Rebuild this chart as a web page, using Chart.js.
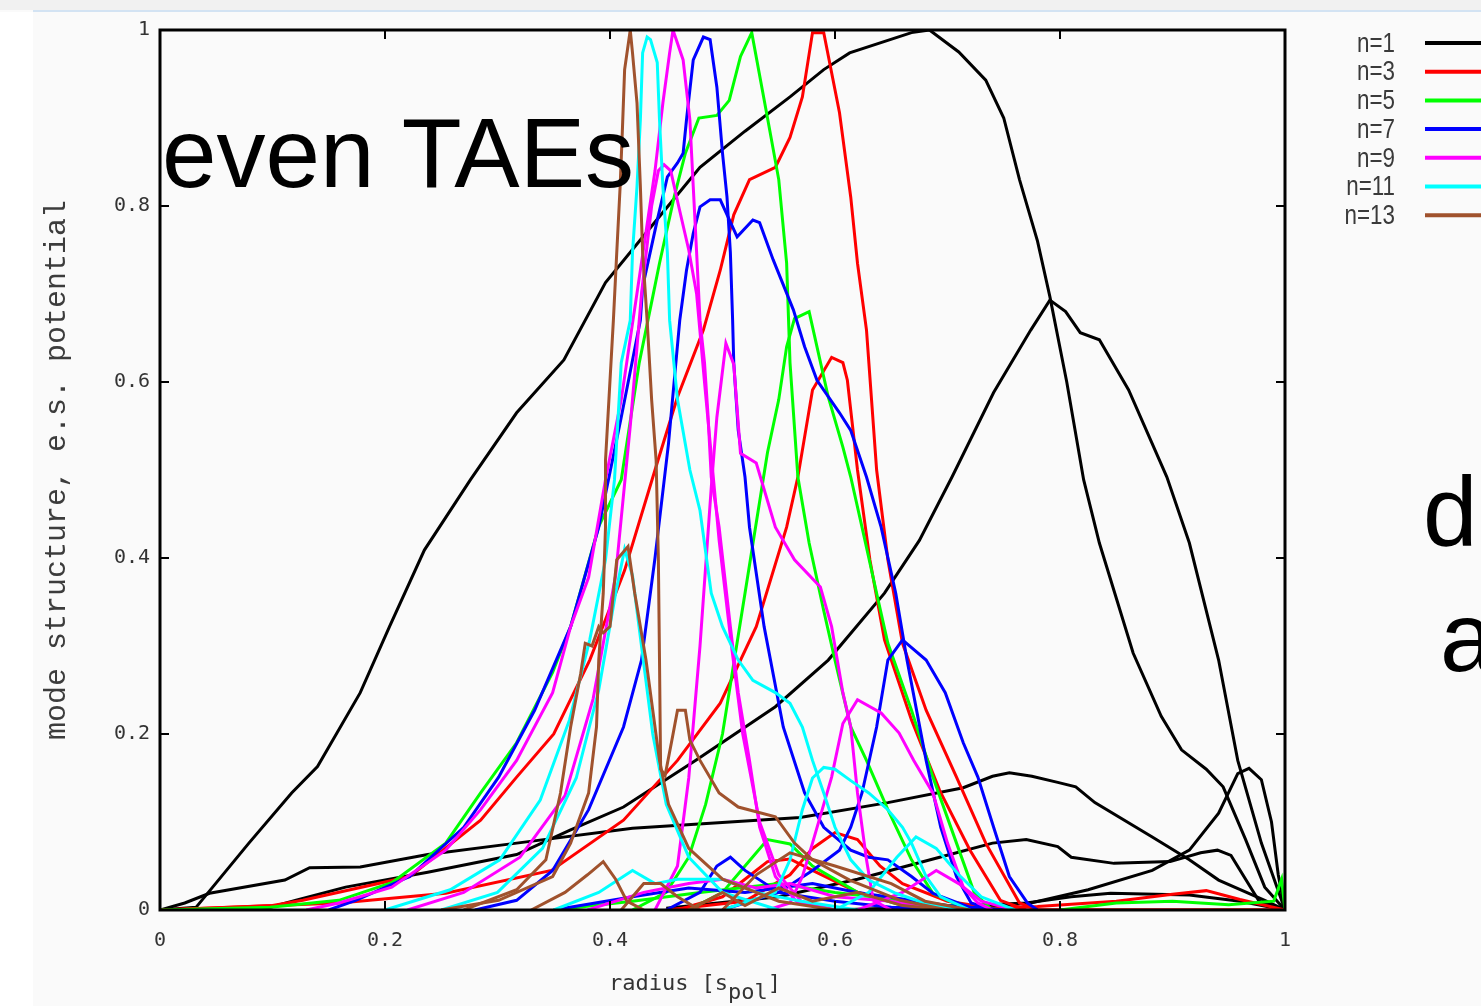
<!DOCTYPE html>
<html>
<head>
<meta charset="utf-8">
<script src="https://cdn.jsdelivr.net/npm/chart.js@4.4.0/dist/chart.umd.min.js"></script>
<style>
  html, body { margin: 0; padding: 0; background: #fafafa; }
  #wrap { position: relative; width: 1481px; height: 1006px; overflow: hidden; }
  #topbar { position: absolute; left: 0; top: 0; width: 1481px; height: 10px; background: #f1f1f1; }
  #topline { position: absolute; left: 33px; top: 10px; width: 1448px; height: 2px; background: #d3e3f3; }
  #leftstrip { position: absolute; left: 0; top: 12px; width: 33px; height: 994px; background: #ffffff; }
  canvas { position: absolute; left: 0; top: 0; }
</style>
</head>
<body>
<div id="wrap">
  <div id="topbar"></div><div id="topline"></div><div id="leftstrip"></div>
  <canvas id="myChart" width="1481" height="1006"></canvas>
</div>
<script>
// tick labels
const xTickLabels = ['0', '0.2', '0.4', '0.6', '0.8', '1'];
const yTickLabels = ['0', '0.2', '0.4', '0.6', '0.8', '1'];
const legendLabels = ['n=1', 'n=3', 'n=5', 'n=7', 'n=9', 'n=11', 'n=13'];

// n=1 (black)
const n1_a = [[0,0],[0.032,0.003],[0.079,0.076],[0.117,0.133],[0.14,0.163],[0.178,0.247],[0.204,0.322],[0.235,0.409],[0.276,0.489],[0.317,0.565],[0.359,0.625],[0.396,0.713],[0.444,0.788],[0.48,0.844],[0.52,0.885],[0.56,0.924],[0.59,0.955],[0.613,0.974],[0.668,0.997],[0.684,1.0],[0.71,0.975],[0.734,0.943],[0.75,0.9],[0.764,0.83],[0.78,0.76],[0.791,0.697],[0.806,0.6],[0.821,0.489],[0.835,0.417],[0.865,0.292],[0.89,0.22],[0.908,0.182],[0.93,0.16],[0.945,0.14],[0.965,0.08],[0.982,0.026],[1,0]];
const n1_b = [[0.08,0],[0.095,0.002],[0.121,0.011],[0.165,0.026],[0.238,0.043],[0.317,0.063],[0.365,0.091],[0.412,0.117],[0.476,0.17],[0.547,0.231],[0.594,0.284],[0.644,0.36],[0.675,0.42],[0.704,0.492],[0.741,0.588],[0.774,0.659],[0.791,0.693],[0.805,0.68],[0.818,0.656],[0.835,0.648],[0.861,0.591],[0.895,0.492],[0.915,0.417],[0.941,0.284],[0.958,0.17],[0.979,0.076],[1,0]];
const n1_c = [[0,0],[0.022,0.008],[0.044,0.019],[0.111,0.034],[0.133,0.048],[0.178,0.049],[0.238,0.063],[0.317,0.076],[0.42,0.093],[0.569,0.105],[0.647,0.122],[0.714,0.139],[0.74,0.152],[0.755,0.156],[0.775,0.152],[0.798,0.145],[0.814,0.14],[0.831,0.122],[0.882,0.083],[0.915,0.057],[0.941,0.034],[0.982,0.011],[1,0]];
const n1_d = [[0.7,0],[0.774,0.008],[0.825,0.023],[0.882,0.045],[0.915,0.068],[0.941,0.11],[0.958,0.155],[0.968,0.161],[0.979,0.148],[0.988,0.1],[0.994,0.04],[1,0]];
const n1_e = [[0.45,0.002],[0.55,0.015],[0.62,0.035],[0.693,0.06],[0.74,0.076],[0.77,0.08],[0.798,0.072],[0.81,0.06],[0.848,0.053],[0.898,0.055],[0.925,0.065],[0.94,0.068],[0.952,0.062],[0.977,0.01],[1,0]];
const n1_f = [[0.6,0],[0.72,0.005],[0.77,0.008],[0.81,0.015],[0.845,0.019],[0.915,0.017],[0.96,0.01],[1,0]];

// n=3 (red)
const n3_a = [[0,0],[0.1,0.005],[0.127,0.011],[0.222,0.038],[0.285,0.102],[0.317,0.151],[0.35,0.2],[0.382,0.284],[0.413,0.386],[0.44,0.5],[0.46,0.583],[0.483,0.659],[0.498,0.727],[0.51,0.79],[0.524,0.83],[0.547,0.844],[0.56,0.878],[0.571,0.924],[0.58,0.997],[0.59,0.997],[0.604,0.906],[0.614,0.81],[0.62,0.735],[0.628,0.659],[0.637,0.5],[0.647,0.398],[0.66,0.303],[0.681,0.227],[0.708,0.151],[0.734,0.076],[0.764,0.008],[0.78,0],[1,0]];
const n3_b = [[0,0],[0.16,0.008],[0.254,0.019],[0.348,0.045],[0.412,0.102],[0.46,0.17],[0.498,0.235],[0.53,0.322],[0.557,0.435],[0.567,0.492],[0.58,0.591],[0.597,0.628],[0.607,0.622],[0.611,0.602],[0.62,0.5],[0.631,0.398],[0.644,0.307],[0.668,0.216],[0.693,0.136],[0.72,0.068],[0.747,0.011],[0.77,0],[1,0]];
const n3_c = [[0.45,0],[0.52,0.01],[0.56,0.04],[0.58,0.07],[0.6,0.088],[0.62,0.08],[0.64,0.05],[0.66,0.03],[0.7,0.01],[0.75,0]];
const n3_d = [[0.46,0],[0.5,0.015],[0.52,0.035],[0.54,0.055],[0.56,0.058],[0.58,0.045],[0.62,0.02],[0.68,0.005],[0.72,0]];
const n3_e = [[0.7,0],[0.78,0.004],[0.85,0.01],[0.9,0.018],[0.93,0.022],[0.96,0.012],[1,0]];

// n=5 (green)
const n5_a = [[0,0],[0.098,0.003],[0.159,0.011],[0.206,0.031],[0.254,0.076],[0.285,0.133],[0.317,0.19],[0.349,0.27],[0.365,0.322],[0.39,0.436],[0.41,0.489],[0.426,0.622],[0.438,0.697],[0.444,0.735],[0.457,0.81],[0.467,0.86],[0.479,0.9],[0.495,0.903],[0.506,0.92],[0.516,0.97],[0.526,0.997],[0.54,0.9],[0.55,0.83],[0.557,0.735],[0.56,0.622],[0.567,0.492],[0.577,0.417],[0.59,0.34],[0.6,0.284],[0.614,0.208],[0.628,0.17],[0.647,0.114],[0.668,0.057],[0.687,0.019],[0.714,0.003],[0.73,0]];
const n5_b = [[0.42,0],[0.45,0.02],[0.47,0.06],[0.485,0.12],[0.5,0.2],[0.51,0.28],[0.52,0.36],[0.53,0.44],[0.54,0.52],[0.55,0.58],[0.557,0.64],[0.564,0.672],[0.577,0.68],[0.584,0.64],[0.594,0.583],[0.607,0.526],[0.614,0.492],[0.624,0.435],[0.637,0.36],[0.647,0.303],[0.668,0.227],[0.687,0.151],[0.708,0.076],[0.724,0.019],[0.74,0]];
const n5_c = [[0.47,0],[0.5,0.02],[0.52,0.05],[0.54,0.08],[0.56,0.075],[0.58,0.05],[0.62,0.02],[0.66,0.005],[0.7,0]];
const n5_d = [[0.35,0],[0.42,0.01],[0.48,0.02],[0.55,0.03],[0.6,0.02],[0.7,0.005],[0.75,0]];
const n5_e = [[0.8,0],[0.85,0.008],[0.9,0.01],[0.95,0.006],[0.99,0.01],[0.997,0.035],[1,0]];

// n=7 (blue)
const n7_a = [[0.15,0],[0.174,0.011],[0.222,0.038],[0.27,0.094],[0.301,0.151],[0.333,0.227],[0.365,0.322],[0.39,0.435],[0.41,0.56],[0.427,0.67],[0.429,0.708],[0.442,0.784],[0.451,0.833],[0.46,0.849],[0.465,0.86],[0.468,0.898],[0.474,0.966],[0.483,0.992],[0.489,0.989],[0.495,0.935],[0.5,0.86],[0.504,0.81],[0.507,0.747],[0.509,0.67],[0.51,0.622],[0.514,0.545],[0.52,0.492],[0.524,0.435],[0.537,0.322],[0.554,0.208],[0.573,0.133],[0.59,0.094],[0.614,0.068],[0.63,0.06],[0.647,0.057],[0.668,0.038],[0.687,0.019],[0.72,0.003],[0.75,0]];
const n7_b = [[0.28,0],[0.317,0.011],[0.349,0.045],[0.381,0.114],[0.412,0.208],[0.428,0.284],[0.44,0.4],[0.452,0.53],[0.462,0.67],[0.468,0.727],[0.474,0.769],[0.48,0.799],[0.489,0.807],[0.498,0.807],[0.513,0.765],[0.527,0.784],[0.533,0.781],[0.545,0.739],[0.563,0.682],[0.573,0.64],[0.584,0.602],[0.604,0.565],[0.614,0.545],[0.628,0.492],[0.641,0.435],[0.654,0.36],[0.664,0.284],[0.681,0.17],[0.694,0.094],[0.708,0.038],[0.721,0.008],[0.74,0]];
const n7_c = [[0.5,0],[0.55,0.02],[0.58,0.045],[0.604,0.068],[0.614,0.094],[0.624,0.133],[0.637,0.208],[0.647,0.284],[0.66,0.307],[0.681,0.284],[0.698,0.247],[0.714,0.19],[0.727,0.151],[0.741,0.094],[0.755,0.038],[0.771,0.008],[0.78,0]];
const n7_d = [[0.45,0],[0.48,0.02],[0.495,0.05],[0.507,0.06],[0.52,0.045],[0.55,0.02],[0.6,0.01],[0.65,0.003],[0.7,0]];
const n7_e = [[0.35,0],[0.42,0.015],[0.47,0.025],[0.52,0.02],[0.58,0.03],[0.62,0.02],[0.7,0.005],[0.75,0]];

// n=9 (magenta)
const n9_a = [[0.13,0],[0.159,0.008],[0.206,0.026],[0.254,0.068],[0.285,0.114],[0.317,0.17],[0.349,0.247],[0.365,0.322],[0.381,0.378],[0.396,0.489],[0.41,0.58],[0.427,0.727],[0.44,0.84],[0.447,0.917],[0.453,0.974],[0.456,1.0],[0.465,0.966],[0.471,0.898],[0.474,0.822],[0.477,0.747],[0.48,0.67],[0.484,0.622],[0.487,0.565],[0.49,0.492],[0.497,0.435],[0.507,0.322],[0.514,0.247],[0.524,0.17],[0.533,0.094],[0.547,0.038],[0.567,0.008],[0.6,0]];
const n9_b = [[0.22,0],[0.27,0.02],[0.32,0.06],[0.36,0.13],[0.385,0.24],[0.405,0.38],[0.418,0.55],[0.428,0.7],[0.437,0.8],[0.443,0.84],[0.448,0.847],[0.454,0.84],[0.461,0.8],[0.47,0.75],[0.477,0.7],[0.484,0.6],[0.497,0.42],[0.508,0.3],[0.518,0.2],[0.533,0.1],[0.55,0.04],[0.57,0.01],[0.6,0]];
const n9_c = [[0.44,0],[0.46,0.05],[0.47,0.15],[0.48,0.3],[0.49,0.48],[0.495,0.56],[0.503,0.644],[0.51,0.62],[0.516,0.519],[0.53,0.508],[0.547,0.435],[0.564,0.398],[0.587,0.367],[0.597,0.322],[0.607,0.247],[0.614,0.208],[0.62,0.133],[0.628,0.057],[0.634,0.011],[0.65,0]];
const n9_d = [[0.54,0],[0.56,0.008],[0.571,0.038],[0.58,0.076],[0.597,0.151],[0.607,0.212],[0.62,0.239],[0.641,0.224],[0.657,0.201],[0.67,0.17],[0.687,0.133],[0.7,0.076],[0.714,0.026],[0.727,0.008],[0.74,0]];
const n9_e = [[0.38,0],[0.43,0.02],[0.47,0.03],[0.5,0.035],[0.53,0.025],[0.56,0.03],[0.6,0.015],[0.65,0.01],[0.7,0]];
const n9_f = [[0.62,0],[0.66,0.02],[0.69,0.045],[0.71,0.03],[0.73,0.01],[0.76,0]];

// n=11 (cyan)
const n11_a = [[0.2,0],[0.258,0.023],[0.302,0.057],[0.338,0.125],[0.364,0.216],[0.382,0.307],[0.396,0.398],[0.404,0.489],[0.41,0.622],[0.418,0.67],[0.42,0.747],[0.424,0.822],[0.427,0.898],[0.429,0.974],[0.433,0.992],[0.436,0.989],[0.442,0.963],[0.444,0.898],[0.447,0.822],[0.451,0.747],[0.453,0.67],[0.46,0.58],[0.471,0.5],[0.48,0.454],[0.49,0.36],[0.5,0.322],[0.514,0.284],[0.527,0.261],[0.547,0.247],[0.56,0.235],[0.571,0.208],[0.58,0.17],[0.59,0.133],[0.6,0.094],[0.614,0.057],[0.63,0.034],[0.654,0.019],[0.684,0.006],[0.72,0]];
const n11_b = [[0.25,0],[0.3,0.02],[0.34,0.07],[0.37,0.15],[0.39,0.25],[0.405,0.36],[0.413,0.41],[0.42,0.38],[0.428,0.3],[0.438,0.2],[0.45,0.12],[0.47,0.06],[0.5,0.02],[0.55,0]];
const n11_c = [[0.5,0],[0.547,0.02],[0.56,0.057],[0.571,0.114],[0.58,0.15],[0.59,0.162],[0.6,0.16],[0.614,0.147],[0.63,0.133],[0.647,0.114],[0.66,0.094],[0.668,0.076],[0.681,0.038],[0.694,0.015],[0.72,0]];
const n11_d = [[0.6,0],[0.63,0.02],[0.655,0.06],[0.672,0.083],[0.69,0.07],[0.71,0.04],[0.73,0.015],[0.76,0]];
const n11_e = [[0.35,0],[0.39,0.02],[0.42,0.045],[0.44,0.03],[0.46,0.035],[0.5,0.035],[0.53,0.02],[0.57,0.01],[0.62,0]];

// n=13 (brown)
const n13_a = [[0.25,0],[0.301,0.011],[0.349,0.038],[0.365,0.076],[0.381,0.133],[0.388,0.208],[0.39,0.284],[0.394,0.36],[0.396,0.435],[0.396,0.511],[0.403,0.67],[0.406,0.747],[0.409,0.822],[0.411,0.886],[0.413,0.955],[0.418,1.0],[0.42,0.974],[0.424,0.917],[0.427,0.822],[0.429,0.747],[0.433,0.67],[0.437,0.58],[0.441,0.511],[0.443,0.398],[0.444,0.284],[0.445,0.16],[0.449,0.153],[0.455,0.193],[0.46,0.227],[0.467,0.227],[0.471,0.193],[0.48,0.17],[0.497,0.133],[0.514,0.117],[0.547,0.106],[0.564,0.076],[0.58,0.057],[0.613,0.034],[0.658,0.011],[0.7,0]];
const n13_b = [[0.27,0],[0.317,0.023],[0.343,0.057],[0.356,0.133],[0.365,0.208],[0.374,0.269],[0.378,0.303],[0.384,0.3],[0.39,0.322],[0.394,0.315],[0.4,0.322],[0.406,0.398],[0.416,0.413],[0.422,0.36],[0.432,0.284],[0.444,0.17],[0.452,0.12],[0.47,0.07],[0.5,0.035],[0.55,0.01],[0.6,0]];
const n13_c = [[0.33,0],[0.36,0.02],[0.38,0.04],[0.394,0.055],[0.405,0.035],[0.415,0.01],[0.43,0]];
const n13_d = [[0.41,0],[0.43,0.03],[0.445,0.03],[0.46,0.015],[0.48,0]];
const n13_e = [[0.5,0],[0.53,0.04],[0.56,0.065],[0.6,0.05],[0.65,0.03],[0.68,0.01],[0.72,0]];
const n13_f = [[0.47,0],[0.5,0.02],[0.52,0.005],[0.55,0.025],[0.58,0.01],[0.62,0.02],[0.66,0.005],[0.7,0]];

const seriesColors = ['#000000', '#ff0000', '#00ff00', '#0000ff', '#ff00ff', '#00ffff', '#a0522d'];
const seriesCurves = [
  [n1_a, n1_b, n1_c, n1_d, n1_e, n1_f],
  [n3_a, n3_b, n3_c, n3_d, n3_e],
  [n5_a, n5_b, n5_c, n5_d, n5_e],
  [n7_a, n7_b, n7_c, n7_d, n7_e],
  [n9_a, n9_b, n9_c, n9_d, n9_e, n9_f],
  [n11_a, n11_b, n11_c, n11_d, n11_e],
  [n13_a, n13_b, n13_c, n13_d, n13_e, n13_f]
];

const datasets = [];
seriesCurves.forEach((curves, i) => {
  curves.forEach(c => {
    datasets.push({
      label: legendLabels[i],
      data: c.map(p => ({ x: p[0], y: p[1] })),
      borderColor: seriesColors[i],
      borderWidth: 3,
      pointRadius: 0,
      tension: 0,
      fill: false,
      order: 10 - i
    });
  });
});

const tickFont = 'DejaVu Sans Mono';
const titleFont = 'Liberation Mono';

// box + inward ticks, like gnuplot
const framePlugin = {
  id: 'frame',
  afterDatasetsDraw(chart) {
    const { ctx, chartArea: a, scales: { x, y } } = chart;
    ctx.save();
    ctx.strokeStyle = '#000';
    ctx.lineWidth = 3;
    ctx.strokeRect(a.left, a.top, a.right - a.left, a.bottom - a.top);
    ctx.lineWidth = 2;
    ctx.beginPath();
    x.ticks.forEach(t => {
      const p = x.getPixelForValue(t.value);
      ctx.moveTo(p, a.bottom); ctx.lineTo(p, a.bottom - 9);
      ctx.moveTo(p, a.top); ctx.lineTo(p, a.top + 9);
    });
    y.ticks.forEach(t => {
      const p = y.getPixelForValue(t.value);
      ctx.moveTo(a.left, p); ctx.lineTo(a.left + 9, p);
      ctx.moveTo(a.right, p); ctx.lineTo(a.right - 9, p);
    });
    ctx.stroke();
    ctx.restore();
  }
};

const textPlugin = {
  id: 'texts',
  afterDraw(chart) {
    const ctx = chart.ctx;
    ctx.save();
    // x axis title with subscript
    ctx.fillStyle = '#333';
    ctx.font = '22px "' + tickFont + '"';
    ctx.textBaseline = 'alphabetic';
    ctx.textAlign = 'left';
    const p1 = 'radius [s', p2 = 'pol', p3 = ']';
    const w1 = ctx.measureText(p1).width, w2 = ctx.measureText(p2).width, w3 = ctx.measureText(p3).width;
    const x0 = 695 - (w1 + w2 + w3) / 2;
    ctx.fillText(p1, x0, 990);
    ctx.fillText(p2, x0 + w1, 999);
    ctx.fillText(p3, x0 + w1 + w2, 990);

    // slide text
    ctx.fillStyle = '#000';
    ctx.font = '98px "Liberation Sans", Arial, sans-serif';
    ctx.fillText('even TAEs', 162, 187);
    ctx.fillText('d', 1423, 545);
    ctx.fillText('a', 1440, 671);

    // legend
    legendLabels.forEach((lab, i) => {
      const yy = 43 + i * 28.7;
      ctx.save();
      ctx.translate(1395, yy);
      ctx.scale(0.8, 1);
      ctx.fillStyle = '#3a3a3a';
      ctx.font = '28px "Liberation Sans", Arial, sans-serif';
      ctx.textAlign = 'right';
      ctx.textBaseline = 'middle';
      ctx.fillText(lab, 0, 1);
      ctx.restore();
      ctx.strokeStyle = seriesColors[i];
      ctx.lineWidth = 4;
      ctx.beginPath();
      ctx.moveTo(1425, yy);
      ctx.lineTo(1481, yy);
      ctx.stroke();
    });
    ctx.restore();
  }
};

new Chart(document.getElementById('myChart'), {
  type: 'line',
  data: { datasets: datasets },
  options: {
    responsive: false,
    animation: false,
    layout: { padding: { left: 35, right: 196, top: 30, bottom: 0 } },
    plugins: { legend: { display: false }, tooltip: { enabled: false } },
    scales: {
      x: {
        type: 'linear', min: 0, max: 1,
        afterFit: s => { s.height = 96; },
        grid: { display: false, drawTicks: false },
        border: { display: false },
        ticks: {
          stepSize: 0.2, padding: 19, maxRotation: 0, color: '#333',
          font: { family: tickFont, size: 20 },
          callback: (v, i) => xTickLabels[i]
        }
      },
      y: {
        type: 'linear', min: 0, max: 1,
        afterFit: s => { s.width = 125; },
        grid: { display: false, drawTicks: false },
        border: { display: false },
        ticks: {
          stepSize: 0.2, padding: 10, color: '#333',
          font: { family: tickFont, size: 20 },
          callback: (v, i) => yTickLabels[i]
        },
        title: {
          display: true, text: 'mode structure, e.s. potential', color: '#3c3c3c',
          font: { family: titleFont, size: 30 },
          padding: { top: 4, bottom: 0 }
        }
      }
    }
  },
  plugins: [framePlugin, textPlugin]
});
</script>
</body>
</html>
